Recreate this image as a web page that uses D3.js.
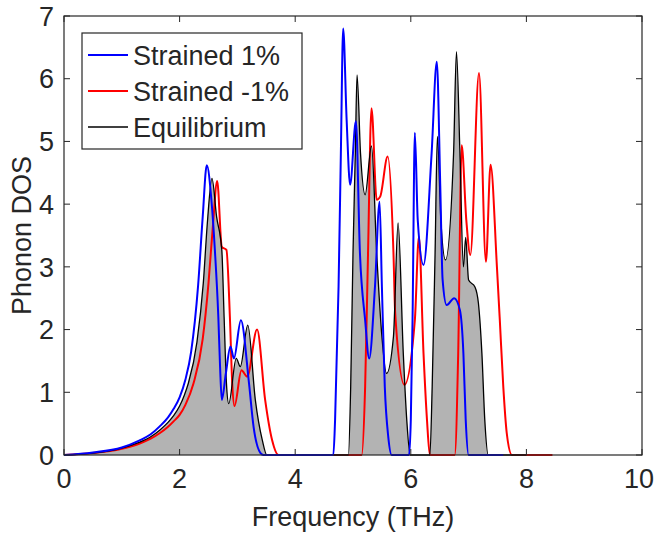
<!DOCTYPE html>
<html>
<head>
<meta charset="utf-8">
<script src="https://cdn.jsdelivr.net/npm/d3@7"></script>
<style>
  body { margin: 0; background: #fff; }
  text { font-family: "Liberation Sans", Arial, sans-serif; fill: #262626; }
</style>
</head>
<body>
<script>
var width = 655,
    height = 534;

// frequency (THz) / DOS pairs
var strainedPos = [
  [0,0],[0.5,0.04],[1.0,0.12],[1.3,0.23],[1.5,0.33],[1.66,0.46],[1.8,0.6],[1.9,0.74],[2.0,0.92],[2.1,1.2],
  [2.2,1.65],[2.32,2.7],[2.4,3.8],[2.47,4.62],
  [2.55,4.07],[2.61,3.27],[2.67,2.2],[2.7,1.41],[2.73,0.88],[2.8,1.3],[2.88,1.73],[2.94,1.54],[3.06,2.15],
  [3.2,1.15],[3.28,0.45],[3.4,0.03],[3.45,0],[4.66,0],[4.69,0.56],[4.75,2.68],[4.79,4.81],[4.83,6.8],
  [4.89,5.34],[4.95,4.31],[5.05,5.32],[5.12,3.22],[5.21,2.15],[5.28,1.54],[5.38,2.68],[5.46,4.04],
  [5.5,2.68],[5.55,1.09],[5.61,0.29],[5.67,0],[5.97,0],[6.0,0.56],[6.03,2.15],[6.07,5.14],[6.12,3.75],
  [6.22,3.03],[6.36,4.81],[6.45,6.27],[6.51,4.28],[6.55,2.8],[6.62,2.39],[6.75,2.5],[6.85,2.31],
  [6.91,1.62],[6.95,0.56],[7.0,0],[7.6,0]
];
var strainedNeg = [
  [0,0],[0.5,0.03],[1.0,0.1],[1.3,0.18],[1.5,0.26],[1.66,0.35],[1.8,0.45],[1.9,0.54],[2.0,0.64],[2.1,0.8],
  [2.24,1.14],[2.4,1.85],[2.5,2.74],[2.58,3.7],
  [2.65,4.37],[2.73,3.32],[2.81,3.27],[2.87,2.2],[2.91,1.15],[2.95,0.78],[3.07,1.35],[3.17,1.25],[3.34,2.0],
  [3.48,0.88],[3.6,0.24],[3.71,0],[5.15,0],[5.21,1.09],[5.26,3.22],[5.32,5.53],[5.41,4.07],[5.47,4.12],
  [5.6,4.76],[5.7,3.22],[5.73,2.26],[5.89,1.12],[6.07,2.15],[6.14,3.48],[6.22,1.62],[6.28,0.56],[6.33,0],
  [6.76,0],[6.82,1.62],[6.88,4.94],[6.96,3.75],[7.03,3.19],[7.18,6.09],[7.3,3.08],[7.38,4.63],[7.49,3.0],
  [7.54,2.15],[7.6,1.09],[7.66,0.35],[7.75,0],[8.45,0]
];
var equilibrium = [
  [0,0],[0.5,0.03],[1.0,0.11],[1.3,0.2],[1.5,0.29],[1.66,0.4],[1.8,0.52],[1.9,0.63],[2.0,0.78],[2.08,0.95],
  [2.15,1.14],[2.3,1.8],[2.41,2.74],[2.48,3.7],
  [2.56,4.41],[2.64,3.8],[2.73,3.27],[2.77,2.2],[2.81,1.15],[2.85,0.82],[2.98,1.54],[3.05,1.41],[3.18,2.07],
  [3.31,0.88],[3.43,0.24],[3.51,0],[4.92,0],[4.96,1.09],[5.0,3.22],[5.04,4.81],[5.07,6.06],[5.13,4.81],
  [5.21,4.15],[5.32,4.93],[5.41,3.22],[5.5,1.89],[5.58,1.3],[5.7,1.89],[5.78,3.7],[5.87,1.62],[5.93,0.56],
  [5.99,0],[6.33,0],[6.37,1.09],[6.42,3.22],[6.46,5.08],[6.52,3.75],[6.6,3.11],[6.74,4.81],[6.79,6.43],
  [6.85,4.81],[6.91,3.0],[6.95,3.47],[7.0,2.79],[7.11,2.68],[7.17,2.42],[7.23,1.62],[7.28,0.56],[7.34,0],[8.0,0]
];

var xTicks = [0, 2, 4, 6, 8, 10],
    yTicks = [0, 1, 2, 3, 4, 5, 6, 7];

var seriesNames = ["Strained 1%", "Strained -1%", "Equilibrium"],
    seriesColors = ["#0000ff", "#ff0000", "#000000"];

var margin = { left: 64, right: 13, top: 16, bottom: 79 };
var fontSize = 27;

var x = d3.scaleLinear().domain([0, 10]).range([margin.left, width - margin.right]);
var y = d3.scaleLinear().domain([0, 7]).range([height - margin.bottom, margin.top]);

var svg = d3.select("body").append("svg")
    .attr("width", width)
    .attr("height", height);

var line = d3.line()
    .x(function (d) { return x(d[0]); })
    .y(function (d) { return y(d[1]); })
    .curve(d3.curveMonotoneX);

var area = d3.area()
    .x(function (d) { return x(d[0]); })
    .y0(y(0))
    .y1(function (d) { return y(d[1]); })
    .curve(d3.curveMonotoneX);

//Gray fill under equilibrium
svg.append("path")
    .datum(equilibrium)
    .attr("fill", "#b3b3b3")
    .attr("d", area);

//Curves
var curves = [
  { data: strainedNeg, color: seriesColors[1], w: 2 },
  { data: equilibrium, color: seriesColors[2], w: 1.3 },
  { data: strainedPos, color: seriesColors[0], w: 2 }
];
curves.forEach(function (c) {
  svg.append("path")
      .datum(c.data)
      .attr("fill", "none")
      .attr("stroke", c.color)
      .attr("stroke-width", c.w)
      .attr("stroke-linejoin", "round")
      .attr("d", line);
});

//Axes box with inner ticks
var axisColor = "#262626";
var x0 = x(0), x1 = x(10), y0 = y(0), y1 = y(7);
svg.append("rect")
    .attr("x", x0).attr("y", y1)
    .attr("width", x1 - x0).attr("height", y0 - y1)
    .attr("fill", "none")
    .attr("stroke", axisColor)
    .attr("stroke-width", 1.2);

var tickLen = 6;
xTicks.forEach(function (t) {
  svg.append("line").attr("x1", x(t)).attr("x2", x(t)).attr("y1", y0).attr("y2", y0 - tickLen)
      .attr("stroke", axisColor);
  svg.append("line").attr("x1", x(t)).attr("x2", x(t)).attr("y1", y1).attr("y2", y1 + tickLen)
      .attr("stroke", axisColor);
  // last label sits against the right edge of the figure
  var last = t == xTicks[xTicks.length - 1];
  svg.append("text")
      .attr("x", last ? width - 1 : x(t)).attr("y", y0 + 33)
      .attr("text-anchor", last ? "end" : "middle")
      .attr("font-size", fontSize)
      .text(t);
});
yTicks.forEach(function (t) {
  svg.append("line").attr("x1", x0).attr("x2", x0 + tickLen).attr("y1", y(t)).attr("y2", y(t))
      .attr("stroke", axisColor);
  svg.append("line").attr("x1", x1).attr("x2", x1 - tickLen).attr("y1", y(t)).attr("y2", y(t))
      .attr("stroke", axisColor);
  svg.append("text")
      .attr("x", x0 - 10).attr("y", y(t))
      .attr("text-anchor", "end")
      .attr("dy", "0.36em")
      .attr("font-size", fontSize)
      .text(t);
});

//Axis labels
svg.append("text")
    .attr("x", (x0 + x1) / 2).attr("y", 526)
    .attr("text-anchor", "middle")
    .attr("font-size", fontSize)
    .text("Frequency (THz)");

svg.append("text")
    .attr("transform", "translate(31," + ((y0 + y1) / 2) + ") rotate(-90)")
    .attr("text-anchor", "middle")
    .attr("font-size", fontSize)
    .text("Phonon DOS");

//Legend
var legend = svg.append("g");
legend.append("rect")
    .attr("x", 82).attr("y", 33)
    .attr("width", 220).attr("height", 116)
    .attr("fill", "#fff")
    .attr("stroke", axisColor)
    .attr("stroke-width", 1.2);

seriesNames.forEach(function (name, i) {
  var ly = 55 + i * 36;
  legend.append("line")
      .attr("x1", 88).attr("x2", 128).attr("y1", ly).attr("y2", ly)
      .attr("stroke", seriesColors[i])
      .attr("stroke-width", i == 2 ? 1.3 : 2);
  legend.append("text")
      .attr("x", 133).attr("y", ly)
      .attr("dy", "0.36em")
      .attr("font-size", fontSize)
      .text(name);
});
</script>
</body>
</html>
